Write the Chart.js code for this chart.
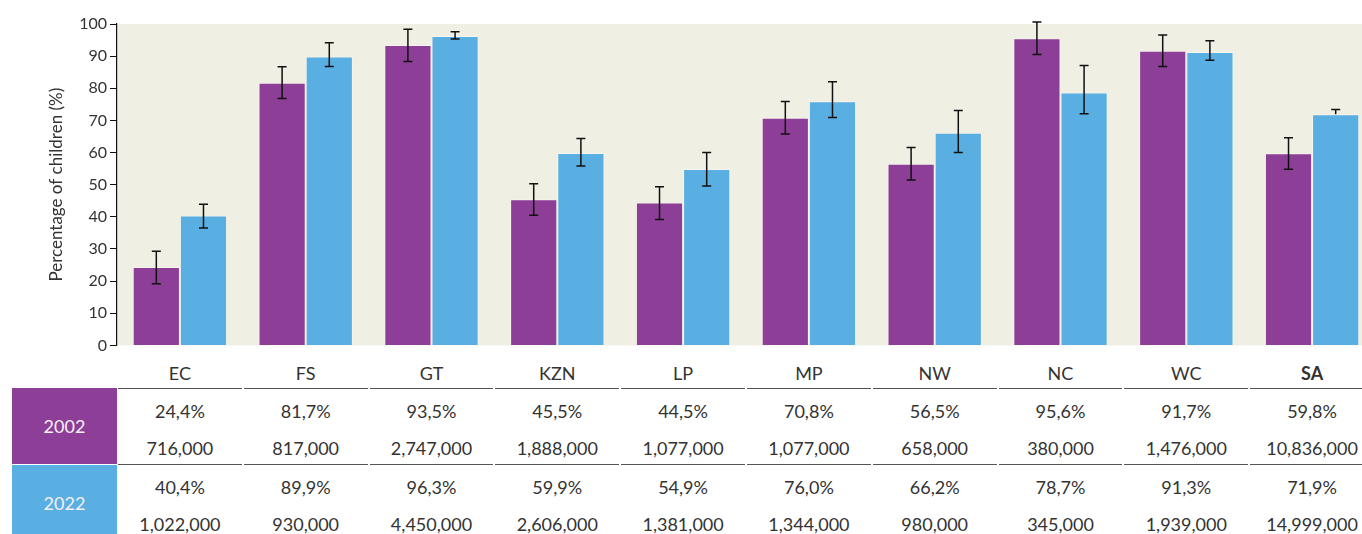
<!DOCTYPE html>
<html>
<head>
<meta charset="utf-8">
<script src="https://cdn.jsdelivr.net/npm/chart.js@4"></script>
<style>
  html, body { margin: 0; padding: 0; background: #fff; overflow: hidden; }
  #wrap { position: relative; width: 1380px; height: 534px; font-family: Lato, 'Open Sans', sans-serif; color: #333; }
  #chart { position: absolute; left: 0; top: 0; }
  .cell { position: absolute; text-align: center; font-size: 18px; line-height: 20px; white-space: nowrap; }
  .rule { position: absolute; height: 0; border-top: 1.5px solid #555; }
  .yr { position: absolute; left: 12px; width: 105px; color: #f4f0f6; font-size: 18px; display: flex; align-items: center; justify-content: center; }
</style>
</head>
<body>
<div id="wrap">
  <canvas id="chart" width="1380" height="358"></canvas>
</div>
<script>
'use strict';
const categories = ['EC', 'FS', 'GT', 'KZN', 'LP', 'MP', 'NW', 'NC', 'WC', 'SA'];
const pct2002 = [24.4, 81.7, 93.5, 45.5, 44.5, 70.8, 56.5, 95.6, 91.7, 59.8];
const pct2022 = [40.4, 89.9, 96.3, 59.9, 54.9, 76.0, 66.2, 78.7, 91.3, 71.9];
const count2002 = [716000, 817000, 2747000, 1888000, 1077000, 1077000, 658000, 380000, 1476000, 10836000];
const count2022 = [1022000, 930000, 4450000, 2606000, 1381000, 1344000, 980000, 345000, 1939000, 14999000];
// confidence intervals (low / high)
const low2002  = [19.2, 76.8, 88.3, 40.5, 39.2, 65.8, 51.5, 90.5, 86.8, 54.8];
const high2002 = [29.3, 86.7, 98.4, 50.3, 49.4, 75.9, 61.6, 100.6, 96.6, 64.6];
const low2022  = [36.5, 86.8, 95.3, 55.8, 49.6, 70.9, 60.0, 72.1, 88.7, 71.9];
const high2022 = [43.9, 94.2, 97.6, 64.4, 60.0, 82.0, 73.1, 87.1, 94.8, 73.4];
const yTicks = [0, 10, 20, 30, 40, 50, 60, 70, 80, 90, 100];

const PURPLE = '#8d3e97';
const BLUE = '#5aafe2';

const plotBg = {
  id: 'plotBg',
  beforeDraw(chart) {
    const { ctx, chartArea: a } = chart;
    ctx.save();
    ctx.fillStyle = '#f0efe4';
    ctx.fillRect(a.left, a.top, a.right - a.left, a.bottom - a.top);
    ctx.restore();
  }
};

const errorBars = {
  id: 'errorBars',
  afterDatasetsDraw(chart) {
    const { ctx } = chart;
    const y = chart.scales.y;
    const bounds = [[low2002, high2002], [low2022, high2022]];
    ctx.save();
    ctx.strokeStyle = '#111';
    ctx.lineWidth = 1.5;
    chart.data.datasets.forEach((ds, di) => {
      const meta = chart.getDatasetMeta(di);
      meta.data.forEach((bar, i) => {
        const lo = bounds[di][0][i], hi = bounds[di][1][i];
        const yl = y.getPixelForValue(lo), yh = y.getPixelForValue(hi);
        const x = bar.x;
        ctx.beginPath();
        ctx.moveTo(x, yl); ctx.lineTo(x, yh);
        ctx.moveTo(x - 4.5, yh); ctx.lineTo(x + 4.5, yh);
        if (lo < ds.data[i]) { ctx.moveTo(x - 4.5, yl); ctx.lineTo(x + 4.5, yl); }
        ctx.stroke();
      });
    });
    ctx.restore();
  }
};

const chart = new Chart(document.getElementById('chart'), {
  type: 'bar',
  data: {
    labels: categories,
    datasets: [
      { label: '2002', data: pct2002, backgroundColor: PURPLE, borderColor: 'rgba(255,255,255,0.35)', borderWidth: 1 },
      { label: '2022', data: pct2022, backgroundColor: BLUE, borderColor: 'rgba(255,255,255,0.35)', borderWidth: 1 },
    ],
  },
  options: {
    responsive: false,
    animation: false,
    layout: { padding: { left: 46, right: 5, top: 24, bottom: 5 } },
    datasets: { bar: { categoryPercentage: 0.75, barPercentage: 1 } },
    plugins: { legend: { display: false }, tooltip: { enabled: false } },
    scales: {
      x: { display: false },
      y: {
        min: 0, max: 100,
        afterFit(s) { s.width = 71; },
        afterBuildTicks(s) { s.ticks = yTicks.map(v => ({ value: v })); },
        ticks: { color: '#333', font: { family: 'Lato', size: 16 }, padding: 3 },
        grid: { drawOnChartArea: false, drawTicks: true, tickLength: 7, color: '#111' },
        border: { display: true, color: '#111', width: 1.2 },
        title: {
          display: true, text: 'Percentage of children (%)',
          color: '#333', font: { family: 'Lato', size: 17 }, padding: { top: 0, bottom: 0 }
        },
      },
    },
  },
  plugins: [plotBg, errorBars],
});

// table under the plot, columns aligned on the category scale
const wrap = document.getElementById('wrap');
const xs = chart.scales.x;
const colW = (xs.right - xs.left) / categories.length;
const fmtPct = v => v.toFixed(1).replace('.', ',') + '%';
const fmtNum = v => v.toLocaleString('en-US');

function addCell(text, cx, cy, bold) {
  const d = document.createElement('div');
  d.className = 'cell';
  d.style.left = (cx - colW / 2) + 'px';
  d.style.width = colW + 'px';
  d.style.top = (cy - 10) + 'px';
  if (bold) d.style.fontWeight = '700';
  d.textContent = text;
  wrap.appendChild(d);
}

function addRule(y) {
  categories.forEach((c, i) => {
    const r = document.createElement('div');
    r.className = 'rule';
    r.style.left = (xs.left + i * colW + 1) + 'px';
    r.style.width = (colW - 2) + 'px';
    r.style.top = y + 'px';
    wrap.appendChild(r);
  });
}

function addYear(text, color, top, height) {
  const d = document.createElement('div');
  d.className = 'yr';
  d.style.top = top + 'px';
  d.style.height = height + 'px';
  d.style.background = color;
  d.textContent = text;
  wrap.appendChild(d);
}

categories.forEach((c, i) => {
  const cx = xs.getPixelForValue(i);
  addCell(c, cx, 373, c === 'SA');
  addCell(fmtPct(pct2002[i]), cx, 411);
  addCell(fmtNum(count2002[i]), cx, 448);
  addCell(fmtPct(pct2022[i]), cx, 487);
  addCell(fmtNum(count2022[i]), cx, 524);
});
addRule(388);
addRule(464);
addYear('2002', PURPLE, 388, 76);
addYear('2022', BLUE, 465, 75);
</script>
</body>
</html>
